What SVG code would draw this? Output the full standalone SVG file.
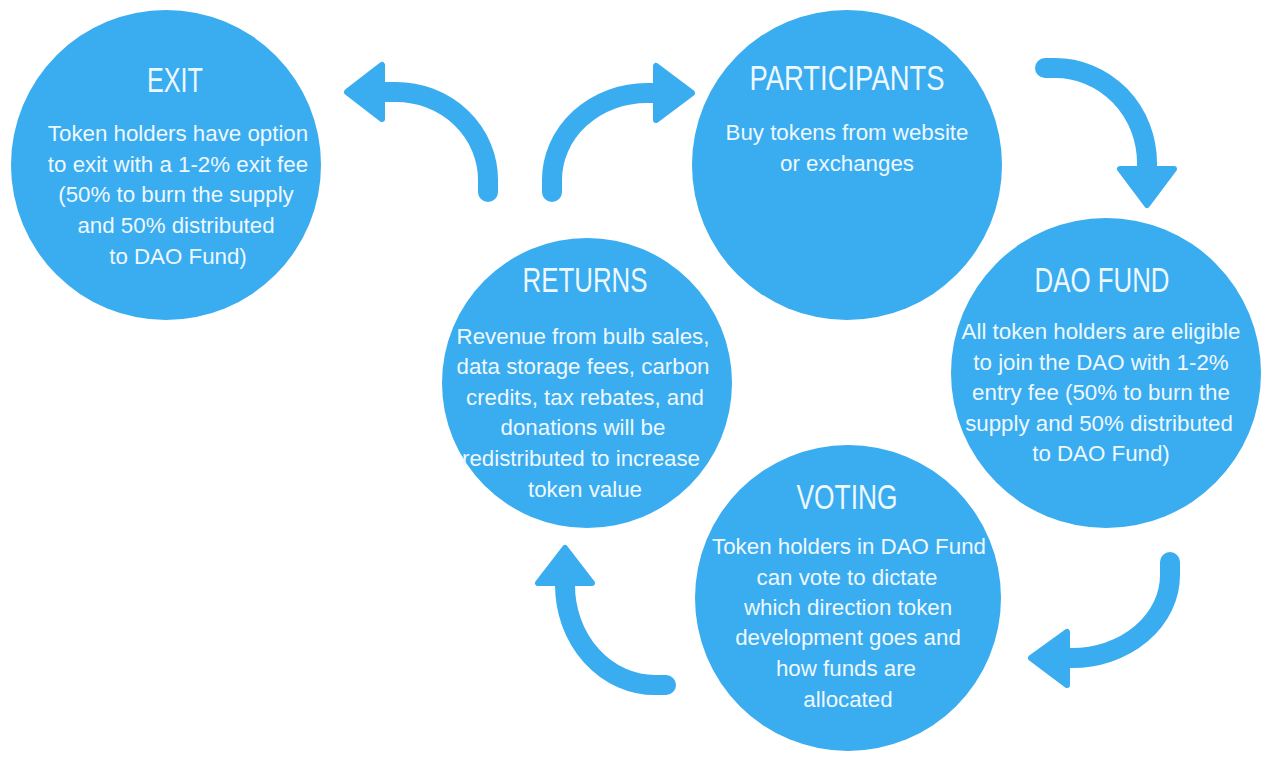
<svg xmlns="http://www.w3.org/2000/svg" width="1280" height="759" viewBox="0 0 1280 759">
<style>
.c{fill:#3aacf0}
.t{font-family:"Liberation Sans",Arial,sans-serif;font-size:35px;fill:#eef8ff;text-anchor:middle}
.b{font-family:"Liberation Sans",Arial,sans-serif;font-size:22.3px;fill:#eef8ff;text-anchor:middle}
.s{fill:none;stroke:#3aacf0;stroke-width:20;stroke-linecap:round}
.h{fill:#3aacf0;stroke:#3aacf0;stroke-width:6;stroke-linejoin:round}
</style>
<rect width="1280" height="759" fill="#ffffff"/>
<g id="connectors">
<path class="s" d="M488,192 L488,180 A92 88 0 0 0 396,92 L385,92"/>
<polygon class="h" points="347,92 382,65 382,119"/>
<path class="s" d="M552,192 L552,180 A95 87 0 0 1 647,93 L655,93"/>
<polygon class="h" points="692,93 656,66 656,120"/>
<path class="s" d="M1045,68 L1055,68 A92 95 0 0 1 1147,163 L1147,172"/>
<polygon class="h" points="1147,205 1120,169 1174,169"/>
<path class="s" d="M1170,562 L1170,575 A98 83 0 0 1 1072,658 L1065,658"/>
<polygon class="h" points="1031,658 1067,632 1067,685"/>
<path class="s" d="M666,685 L655,685 A90 100 0 0 1 565,585 L565,578"/>
<polygon class="h" points="565,548 538,583 592,583"/>
</g>
<g id="exit">
<circle class="c" cx="166" cy="165" r="155"/>
<text class="t" x="175" y="92" textLength="56" lengthAdjust="spacingAndGlyphs">EXIT</text>
<text class="b" x="178" y="141">Token holders have option</text>
<text class="b" x="178" y="172">to exit with a 1-2% exit fee</text>
<text class="b" x="176" y="202">(50% to burn the supply</text>
<text class="b" x="176" y="233">and 50% distributed</text>
<text class="b" x="178" y="264">to DAO Fund)</text>
</g>
<g id="participants">
<circle class="c" cx="847" cy="165" r="155"/>
<text class="t" x="847" y="90" textLength="195" lengthAdjust="spacingAndGlyphs">PARTICIPANTS</text>
<text class="b" x="847" y="140">Buy tokens from website</text>
<text class="b" x="847" y="171">or exchanges</text>
</g>
<g id="returns">
<circle class="c" cx="587" cy="383" r="145"/>
<text class="t" x="585" y="292" textLength="125" lengthAdjust="spacingAndGlyphs">RETURNS</text>
<text class="b" x="583" y="344">Revenue from bulb sales,</text>
<text class="b" x="583" y="374">data storage fees, carbon</text>
<text class="b" x="585" y="405">credits, tax rebates, and</text>
<text class="b" x="583" y="435">donations will be</text>
<text class="b" x="581" y="466">redistributed to increase</text>
<text class="b" x="585" y="497">token value</text>
</g>
<g id="dao-fund">
<circle class="c" cx="1106" cy="373" r="155"/>
<text class="t" x="1102" y="292" textLength="135" lengthAdjust="spacingAndGlyphs">DAO FUND</text>
<text class="b" x="1101" y="339">All token holders are eligible</text>
<text class="b" x="1101" y="370">to join the DAO with 1-2%</text>
<text class="b" x="1101" y="400">entry fee (50% to burn the</text>
<text class="b" x="1099" y="431">supply and 50% distributed</text>
<text class="b" x="1101" y="461">to DAO Fund)</text>
</g>
<g id="voting">
<circle class="c" cx="848" cy="598" r="153"/>
<text class="t" x="847" y="509" textLength="101" lengthAdjust="spacingAndGlyphs">VOTING</text>
<text class="b" x="849" y="554">Token holders in DAO Fund</text>
<text class="b" x="847" y="585">can vote to dictate</text>
<text class="b" x="848" y="615">which direction token</text>
<text class="b" x="848" y="645">development goes and</text>
<text class="b" x="846" y="676">how funds are</text>
<text class="b" x="848" y="707">allocated</text>
</g>
</svg>
